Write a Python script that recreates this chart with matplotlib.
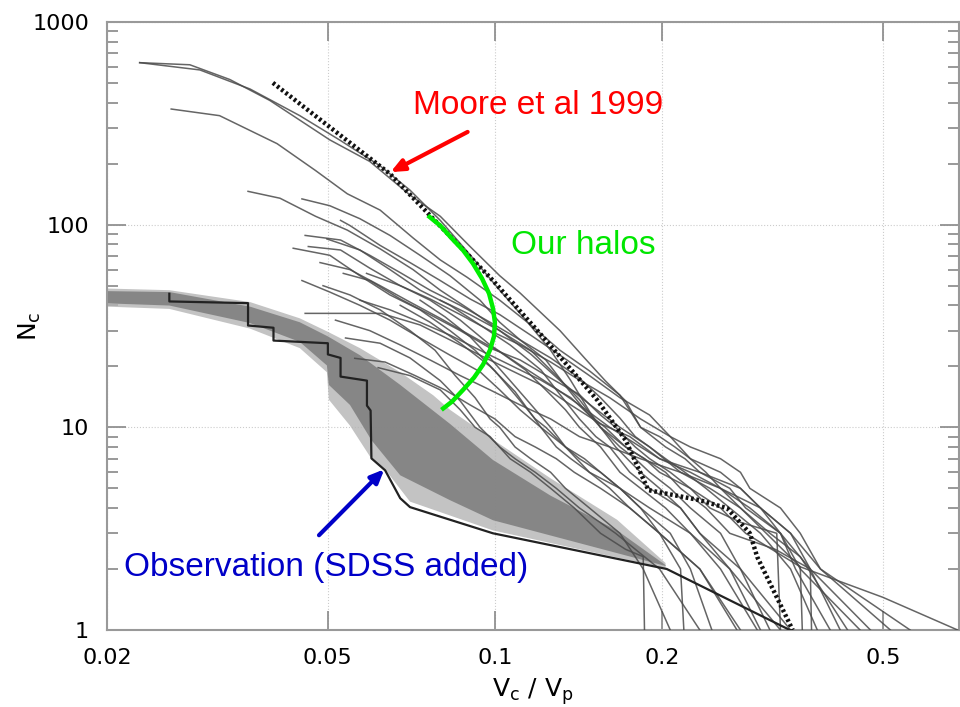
import matplotlib
matplotlib.use('Agg')
import matplotlib.pyplot as plt
from matplotlib.ticker import FixedLocator, NullLocator, LogLocator, NullFormatter

# halo curves: (V_c/V_p, N_c)
halo_curves = [
    ([.0229, .0282, .0333, .0393, .0504, .0595, .0703, .0797, .0902, .102, .111, .131, .145, .158, .172, .183, .203, .220, .234, .265, .283, .327, .348, .402],
     [630, 615, 520, 410, 262, 205, 140, 110, 78, 56, 46, 30, 22, 17, 13.5, 10, 8, 7, 6, 5, 4, 3, 2, 1]),
    ([.0229, .0294, .0362, .0445, .0527, .0621, .0703, .0797, .0902, .102, .1135, .126, .137, .148, .155, .168, .179, .190, .207, .225, .255, .277, .313],
     [630, 580, 467, 345, 260, 195, 148, 105, 71, 47.5, 34, 24, 17, 12, 10, 8, 7, 6, 5, 4, 3, 2, 1]),
    ([.0261, .0319, .0405, .0475, .0542, .0621, .0712, .0797, .0891, .102, .116, .131, .148, .168, .183, .198, .211, .225, .255, .277, .301, .341, .370, .419],
     [372, 345, 251, 185, 142, 118, 86, 67, 55, 42.4, 32, 24, 19, 14.4, 10, 9, 8, 7, 6, 5, 4, 3, 2, 1]),
    ([.0359, .041, .0475, .0542, .0621, .0712, .0797, .0902, .102, .116, .129, .142, .155, .172, .186, .198, .225, .244, .277, .322, .327],
     [146, 135, 110, 94, 76, 60, 47.5, 38, 30, 24, 18, 13.7, 10, 8, 7, 6, 5, 4, 3.4, 3, 1]),
    ([.0449, .0504, .0571, .0647, .0733, .083, .094, .102, .111, .1235, .134, .145, .155, .165, .183, .198, .216, .234, .265, .301],
     [134, 124, 107, 88.5, 70.6, 56, 42.4, 33, 27, 21.5, 16, 12.2, 10, 8, 6, 5, 4, 3, 2, 1]),
    ([.0433, .0504, .0571, .0647, .0733, .083, .0921, .100, .1087, .1182, .1235, .134, .142, .155, .168, .183, .207, .225, .246],
     [76.5, 70.6, 56, 45, 38, 30, 24, 19, 14.5, 11, 10, 8, 7, 6, 5, 4, 3, 2, 1]),
    ([.0461, .0527, .0595, .0675, .0764, .0866, .098, .111, .126, .142, .161, .183, .198, .225, .255, .288, .327, .370, .475],
     [78, 75, 61, 50, 42.4, 33.8, 25.5, 20.3, 16.2, 12.9, 10, 8, 7, 6, 5, 4, 3, 2, 1]),
    ([.0498, .0571, .0647, .0733, .083, .094, .1065, .121, .131, .142, .152, .161, .175, .190, .216, .234, .277, .341],
     [85, 75, 60, 47.5, 40, 32, 25.5, 19.2, 14.5, 11, 9, 8, 6, 5, 4, 3, 2, 1]),
    ([.0449, .0504, .0571, .0647, .0733, .083, .094, .102, .111, .121, .129, .137, .148, .161, .175, .198, .234, .277],
     [53, 46.5, 40, 33.8, 27.6, 22.7, 18.8, 15.3, 12.2, 10, 8, 7, 6, 5, 4, 3, 2, 1]),
    ([.049, .0548, .0621, .0703, .078, .0848, .0921, .098, .102, .1087, .116, .126, .134, .148, .168, .185, .207],
     [50, 45, 38, 30, 24, 18, 14, 11, 10, 8, 7, 6, 5, 4, 3, 2, 1]),
    ([.0455, .0624, .0733, .083, .094, .1065, .121, .137, .155, .175, .198, .234, .277, .301, .327, .355, .455],
     [36.5, 36.5, 32, 27, 22.7, 19.2, 16.2, 12.9, 10.4, 9, 7, 6, 5, 4, 3, 2, 1]),
    ([.0533, .0595, .0675, .0764, .0866, .098, .111, .126, .142, .155, .165, .179, .190, .207, .225, .255, .283, .355, .358],
     [57.5, 53, 43, 36, 30, 24.6, 21.5, 17.5, 14.5, 11.5, 10, 8, 7, 6, 5, 4, 3, 2.05, 1]),
    ([.0559, .0634, .0718, .0813, .0902, .100, .1087, .1182, .129, .139, .155, .175, .198, .234, .273],
     [21.9, 21, 18, 15.3, 12.9, 11, 9, 8, 7, 6, 5, 4, 3, 2, 1]),
    ([.0616, .0703, .0797, .0866, .0921, .098, .1065, .116, .126, .139, .155, .172, .185, .186],
     [19.7, 18, 15.3, 12.2, 10, 9, 7, 6, 5, 4, 3, 2.5, 2.3, 1]),
    ([.0587, .0675, .0764, .0866, .098, .111, .126, .142, .161, .183, .207, .225, .255, .277, .288, .327, .355, .386, .516],
     [57.5, 50, 43, 36, 30, 25.5, 21, 17.1, 14, 11, 9, 8, 7, 6, 5, 4, 3, 2, 1]),
    ([.0527, .0548, .0621, .0703, .0797, .0902, .102, .116, .131, .148, .168, .190, .207, .225, .240, .255, .277, .301, .355, .50, .682],
     [105, 99, 79, 65, 53, 43, 36, 28.5, 22.7, 18, 14, 11.5, 9, 7, 6, 5, 4, 3.2, 2.05, 1.45, 1]),
    ([.0516, .0595, .0675, .0764, .0866, .098, .111, .126, .142, .161, .183, .216, .255, .301, .341, .386, .560],
     [33.8, 30, 25.5, 21.5, 18, 15.3, 12.9, 11, 9, 8, 7, 6, 5, 4, 3, 2, 1]),
    ([.0733, .0814, .0902, .098, .1065, .116, .126, .134, .145, .155, .168, .183, .198, .216, .219],
     [42.4, 35, 28, 22, 17, 13, 10, 8, 7, 6, 5, 4, 3, 2, 1]),
    ([.0571, .0647, .0733, .083, .094, .1065, .121, .137, .148, .158, .172, .186, .203, .216, .240, .265, .320, .370, .372],
     [42.4, 38, 33, 28.5, 24, 20.3, 17.1, 14, 11.5, 10, 8, 7, 6, 5, 4, 3, 2.5, 2, 1]),
    ([.0484, .0548, .0621, .0703, .0797, .0902, .102, .1135, .1235, .134, .142, .155, .168, .183, .203, .225, .255, .297],
     [65, 60, 50, 41.5, 34.5, 28.5, 23.6, 19.2, 15.3, 12.2, 10, 8, 6, 5, 4, 3, 2, 1]),
    ([.0455, .0527, .0595, .0675, .0764, .0866, .098, .111, .126, .142, .155, .168, .179, .190, .203, .220, .240, .265, .301, .341, .381],
     [88.5, 84, 70.6, 58, 47.5, 40, 33, 27, 22, 17.5, 14, 11.1, 9, 8, 7, 6, 5, 4, 3, 2, 1]),
    ([.0538, .0621, .0703, .0797, .0866, .094, .102, .1087, .1182, .129, .142, .165, .198, .234],
     [27.6, 26, 22, 17, 13.5, 10, 8, 7, 6, 5, 4, 3, 2, 1]),
    ([.0675, .0764, .0866, .098, .1087, .121, .134, .148, .168, .190, .225, .265, .327],
     [40, 33, 26, 20, 15, 10, 8, 6, 5, 4, 3, 2, 1]),
    ([.0797, .0902, .102, .116, .131, .148, .168, .190, .216, .244, .277, .313, .355, .432],
     [42.4, 36, 30, 23, 17, 13, 10, 8, 6, 5, 4, 3, 2.3, 1]),
]

# Moore et al 1999 (dotted)
moore_x = [.0398, .0647, .0764, .0992, .1206, .153, .172, .189, .234, .262, .288, .297, .344]
moore_n = [501, 178, 111, 53, 29, 13.6, 8.63, 4.9, 4.37, 3.99, 3.0, 2.29, 1]

# our halos (green arc)
green_x = [.0757, .0797, .0837, .0876, .0913, .0948, .0976, .0992, .100, .0996, .098, .0952, .0917, .0876, .0837, .0801]
green_n = [111, 98.9, 85.3, 74.8, 64.3, 54.2, 45.7, 38.6, 32.9, 28.1, 24.1, 20.4, 17.6, 15.3, 13.4, 12.2]

# observation (step line)
obs_x = [.0259, .0259, .0359, .0359, .0399, .0399, .050, .050, .0527, .0527, .0588, .0588, .0597, .0599,
         .0634, .0675, .0703, .0992, .204, .340]
obs_n = [45.6, 41.8, 41, 31.8, 31, 26.8, 26, 22.9, 22, 17.8, 17, 12.8, 12.1, 7.03, 6.14, 4.47, 4.04, 3.0, 2.0, 1.0]

# spread of observation realisations: outer envelope and dense core of the grey band
band_up_x = [.020, .0259, .0362, .0445, .050, .0571, .0675, .0774, .083, .0992, .126, .166, .203]
band_up_n = [48.4, 47.5, 41.5, 34.5, 29.6, 24.6, 18.7, 14.4, 12.2, 8.7, 5.6, 3.5, 2.14]
band_lo_x = [.020, .0259, .0362, .0445, .0498, .0502, .0548, .0599, .0634, .0703, .0992, .203]
band_lo_n = [39.4, 38.4, 30.7, 24.6, 18.7, 13.7, 10.2, 7.0, 6.2, 4.3, 3.1, 2.02]
core_up_x = [.020, .0259, .0362, .0445, .050, .0571, .0675, .083, .0992, .126, .166, .203]
core_up_n = [47.0, 46.5, 39.4, 33.0, 28.1, 22.7, 16.2, 10.4, 6.9, 4.6, 3.1, 2.09]
core_lo_x = [.020, .0259, .0362, .0445, .0498, .0502, .0548, .0599, .0675, .083, .0992, .203]
core_lo_n = [40.9, 39.9, 32.7, 26.4, 20.2, 16.2, 12.9, 8.65, 5.8, 4.37, 3.48, 2.07]

x_ticks = [0.02, 0.05, 0.1, 0.2, 0.5]
x_ticklabels = ['0.02', '0.05', '0.1', '0.2', '0.5']
y_ticks = [1, 10, 100, 1000]
y_ticklabels = ['1', '10', '100', '1000']

fig = plt.figure(figsize=(9.6, 7.07), dpi=100)
ax = fig.add_axes([0.1115, 0.1089, 0.8875, 0.86])
ax.set_xscale('log')
ax.set_yscale('log')
ax.set_xlim(0.02, 0.686)
ax.set_ylim(1, 1000)

ax.fill(band_up_x + band_lo_x[::-1], band_up_n + band_lo_n[::-1],
        color='#b4b4b4', alpha=0.8, lw=0, zorder=2)
ax.fill(core_up_x + core_lo_x[::-1], core_up_n + core_lo_n[::-1],
        color='#7c7c7c', alpha=0.85, lw=0, zorder=2)

for hx, hn in halo_curves:
    ax.plot(hx, hn, color='#4a4a4a', lw=1.1, alpha=0.85, zorder=3)

ax.plot(obs_x, obs_n, color='#222222', lw=1.6, zorder=4)
ax.plot(moore_x, moore_n, color='#111111', lw=3.2, ls=(0, (0.6, 0.6)), zorder=5)
ax.plot(green_x, green_n, color='#00ee00', lw=3.2, zorder=6, solid_capstyle='butt')

lab_font = 'Liberation Sans'
ax.text(0.1196, 386, 'Moore et al 1999', color='#ff0000', fontsize=24, family=lab_font,
        ha='center', va='center', zorder=7)
ax.text(0.1442, 78.8, 'Our halos', color='#00e600', fontsize=24, family=lab_font,
        ha='center', va='center', zorder=7)
ax.text(0.0496, 2.04, 'Observation (SDSS added)', color='#0000c8', fontsize=24, family=lab_font,
        ha='center', va='center', zorder=7)
ax.annotate('', xy=(0.0642, 179), xytext=(0.0902, 291),
            arrowprops=dict(arrowstyle='-|>,head_length=0.8,head_width=0.35', lw=3, color='#ff0000'), zorder=7)
ax.annotate('', xy=(0.0637, 6.35), xytext=(0.0478, 2.87),
            arrowprops=dict(arrowstyle='-|>,head_length=0.8,head_width=0.35', lw=3, color='#0000c8'), zorder=7)

ax.xaxis.set_major_locator(FixedLocator(x_ticks))
ax.set_xticklabels(x_ticklabels)
ax.xaxis.set_minor_locator(NullLocator())
ax.yaxis.set_major_locator(FixedLocator(y_ticks))
ax.set_yticklabels(y_ticklabels)
ax.yaxis.set_minor_locator(LogLocator(base=10, subs=range(2, 10)))
ax.yaxis.set_minor_formatter(NullFormatter())

ax.tick_params(which='major', direction='in', length=14, width=1.2, color='#888888',
               top=True, right=True, labelsize=16)
ax.tick_params(axis='x', which='major', pad=13)
ax.tick_params(axis='y', which='major', pad=13)
ax.tick_params(which='minor', direction='in', length=8, width=1.2, color='#888888',
               right=True)
ax.grid(True, which='major', ls=':', color='#cccccc', lw=0.8)
for sp in ax.spines.values():
    sp.set_color('#999999')
    sp.set_linewidth(1.5)

ax.set_xlabel(r'$\mathregular{V_c\ /\ V_p}$', fontsize=18)
ax.set_ylabel(r'$\mathregular{N_c}$', fontsize=18)
ax.xaxis.set_label_coords(0.5, -0.076)
ax.yaxis.set_label_coords(-0.075, 0.5)

fig.savefig('out.png', dpi=100)
